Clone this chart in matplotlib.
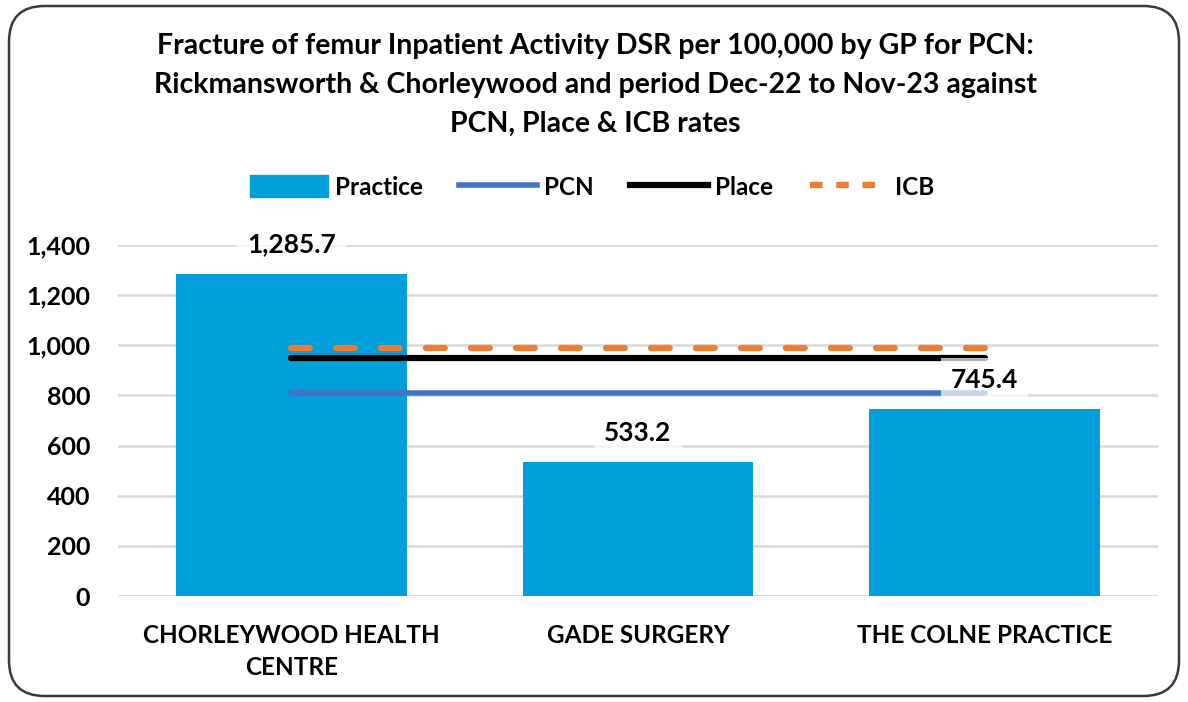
import matplotlib
matplotlib.use("Agg")
import matplotlib.pyplot as plt
from matplotlib.patches import FancyBboxPatch, Patch
from matplotlib.lines import Line2D
import numpy as np

categories = ["CHORLEYWOOD HEALTH\nCENTRE", "GADE SURGERY", "THE COLNE PRACTICE"]
practice = [1285.7, 533.2, 745.4]
pcn = [810, 810, 810]
place = [948, 948, 948]
icb = [988, 988, 988]
yticks = [0, 200, 400, 600, 800, 1000, 1200, 1400]

plt.rcParams['font.family'] = ['Lato', 'DejaVu Sans']
plt.rcParams['font.weight'] = 'bold'

fig = plt.figure(figsize=(11.88, 7.02), dpi=100)
fig.patch.set_facecolor('white')

frame = FancyBboxPatch((9/1188, 6/702), 1170/1188, 690/702,
                       boxstyle="round,pad=0,rounding_size=0.03",
                       transform=fig.transFigure, facecolor='none',
                       edgecolor='#3A3A3A', linewidth=1.8, zorder=-1,
                       mutation_aspect=1188/702)
fig.patches.append(frame)

ax = fig.add_axes([118/1188, 1 - 596/702, 1040/1188, 351/702])
ax.set_facecolor('none')
x = np.arange(len(categories))
ax.bar(x, practice, width=0.666, color='#009FD9', zorder=2)
ax.plot(x, pcn, color='#4472C4', lw=4, solid_capstyle='round', zorder=3)
ax.plot(x, place, color='black', lw=4.5, solid_capstyle='round', zorder=3)
ax.plot(x, icb, color='#ED7D31', lw=4.5, dashes=(3, 4.2), dash_capstyle='round', zorder=3)

ax.set_xlim(-0.5, 2.5)
ax.set_ylim(0, 1400)
ax.set_yticks(yticks)
ax.set_yticklabels([f"{v:,}" for v in yticks])
ax.tick_params(axis='y', length=0, pad=20, labelsize=18)
ax.tick_params(axis='x', length=0, pad=20, labelsize=17.5)
ax.set_xticks(x)
ax.set_xticklabels(categories, linespacing=1.5)
ax.yaxis.grid(True, color='#D9D9D9', lw=1.8, zorder=0)
for s in ax.spines.values():
    s.set_visible(False)
ax.axhline(0, color='#D9D9D9', lw=1.8, zorder=1)

for xi, v in zip(x, practice):
    ax.annotate(f"{v:,.1f}", (xi, v), xytext=(0, 21), textcoords='offset points',
                ha='center', va='center', fontsize=19, fontweight='bold', zorder=5,
                bbox=dict(boxstyle='square,pad=0.38', fc='white', ec='none', alpha=0.7))

handles = [Patch(color='#009FD9'),
           Line2D([], [], color='#4472C4', lw=4),
           Line2D([], [], color='black', lw=4.5),
           Line2D([], [], color='#ED7D31', lw=4.5, dashes=(2, 2.2))]
fig.legend(handles, ["Practice", "PCN", "Place", "ICB"], loc='center',
           bbox_to_anchor=(592/1188, 1 - 187/702), ncol=4, frameon=False,
           fontsize=17.5, handlelength=3.2, handletextpad=0.3, columnspacing=1.5,
           handleheight=1.0)

fig.text(595/1188, 1 - 85/702,
         "Fracture of femur Inpatient Activity DSR per 100,000 by GP for PCN:\n"
         "Rickmansworth & Chorleywood and period Dec-22 to Nov-23 against\n"
         "PCN, Place & ICB rates",
         ha='center', va='center', fontsize=20.5, fontweight='bold', linespacing=1.6)

fig.savefig("out.png", dpi=100, facecolor='white')
